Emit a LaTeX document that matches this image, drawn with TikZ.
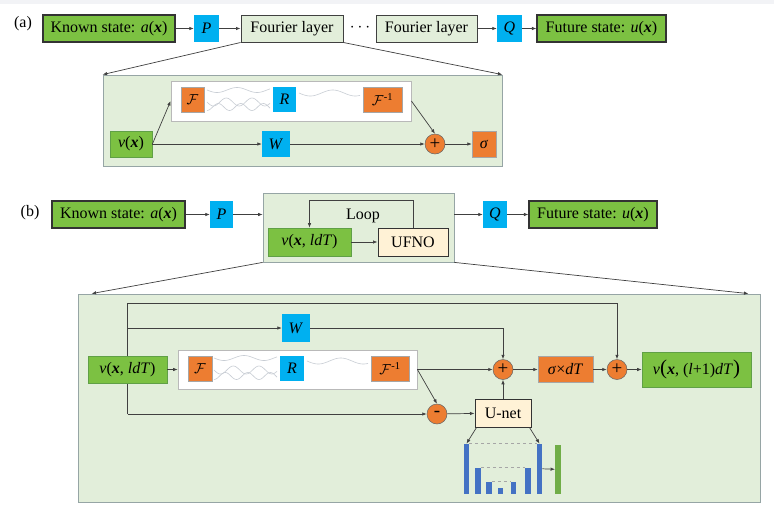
\documentclass[tikz,border=0pt]{standalone}
\usepackage{fontspec}
\setmainfont{Liberation Serif}
\usetikzlibrary{arrows.meta}

\definecolor{gfill}{RGB}{124,193,66}
\definecolor{gline}{RGB}{96,160,70}
\definecolor{cyanfill}{RGB}{0,176,240}
\definecolor{orangefill}{RGB}{237,125,49}
\definecolor{panelfill}{RGB}{226,238,218}
\definecolor{panelline}{RGB}{150,165,165}
\definecolor{creamfill}{RGB}{255,242,214}
\definecolor{barblue}{RGB}{68,114,196}
\definecolor{bargreen}{RGB}{112,173,71}
\definecolor{wave}{RGB}{200,205,212}
\definecolor{topband}{RGB}{242,243,246}

\newcommand{\bx}{\textbf{\textit{x}}}
\newcommand{\Finv}{{\fontsize{15}{15}\selectfont$\mathcal{F}$\textsuperscript{-1}}}
\newcommand{\Ffwd}{{\fontsize{15}{15}\selectfont$\mathcal{F}$}}

\tikzset{
  txt/.style={font=\fontsize{16}{18}\selectfont},
  blk/.style={rectangle, inner sep=0pt, txt},
  statebox/.style={blk, fill=gfill, draw=black!80, line width=1.2pt},
  vbox/.style={blk, fill=gfill, draw=gline, line width=0.8pt},
  cyanbox/.style={blk, fill=cyanfill, minimum width=25, minimum height=27},
  orangebox/.style={blk, fill=orangefill, draw=gray!70, line width=0.4pt, minimum height=25},
  layerbox/.style={blk, fill=panelfill, draw=black!75, line width=1pt, minimum height=27},
  creambox/.style={blk, fill=creamfill, draw=black!80, line width=1pt, minimum height=28},
  panel/.style={rectangle, fill=panelfill, draw=panelline, line width=0.8pt},
  specbox/.style={rectangle, fill=white, draw=gray!55, line width=0.8pt},
  opcirc/.style={circle, fill=orangefill, draw=black!60, line width=0.5pt,
    minimum size=20, inner sep=0pt, font=\fontsize{19}{19}\selectfont},
  conn/.style={draw=black!75, line width=0.7pt},
  arr/.style={conn, -{Latex[length=4.5pt,width=3.5pt]}},
  bar/.style={rectangle, fill=barblue, inner sep=0pt, minimum width=5.5},
  waveline/.style={draw=wave, line width=0.6pt},
}

\begin{document}
\begin{tikzpicture}[x=1pt, y=-1pt]
\useasboundingbox (0,0) rectangle (774,504);
\fill[white] (0,0) rectangle (774,504);
\fill[topband] (0,0) rectangle (774,4);

% ---------------- (a) ----------------
\node[txt] (la) at (23,24) {(a)};
\node[statebox, minimum width=132, minimum height=27] (ka) at (109,28.5)
  {Known state: \textit{a}(\bx)};
\node[cyanbox] (pa) at (206.5,28.5) {\textit{P}};
\node[layerbox, minimum width=102] (fl1) at (292,28.5) {Fourier layer};
\node[txt] (dots) at (360,28) {$\cdots$};
\node[layerbox, minimum width=101] (fl2) at (426.5,28.5) {Fourier layer};
\node[cyanbox] (qa) at (509.5,28.5) {\textit{Q}};
\node[statebox, minimum width=129, minimum height=27] (fa) at (601.5,28.5)
  {Future state: \textit{u}(\bx)};

\draw[arr] (ka) -- (pa);
\draw[arr] (pa) -- (fl1);
\draw[arr] (fl2) -- (qa);
\draw[arr] (qa) -- (fa);

\node[panel, minimum width=399, minimum height=91] (pna) at (302.5,120.5) {};
\draw[arr] (fl1.south west) -- (pna.north west);
\draw[arr] (fl1.south east) -- (pna.north east);

\node[specbox, minimum width=240, minimum height=40] (spa) at (291,101) {};
\draw[waveline] plot[domain=207:270, samples=60] (\x, {90+2.5*sin((\x-207)*9)});
\draw[waveline] plot[domain=207:270, samples=60] (\x, {102+4*sin((\x-207)*14)});
\draw[waveline] plot[domain=207:270, samples=60] (\x, {107+3.5*sin((\x-207)*16+90)});
\draw[waveline] plot[domain=299:360, samples=60] (\x, {93+3*sin((\x-299)*8)});
\node[orangebox, minimum width=23] (Fa) at (192.5,99.5) {\Ffwd};
\node[cyanbox, minimum width=23, minimum height=25] (Ra) at (284.5,99.5) {\textit{R}};
\node[orangebox, minimum width=39] (Fia) at (382.5,99.5) {\Finv};

\node[vbox, minimum width=42, minimum height=26] (va) at (131,144) {\textit{v}(\bx)};
\node[cyanbox, minimum width=28, minimum height=26] (Wa) at (276,144) {\textit{W}};
\node[opcirc] (pla) at (435,144) {+};
\node[orangebox, minimum width=24, minimum height=26] (sa) at (484,144) {\textit{σ}};

\draw[arr] (va.east) -- (spa.west);
\draw[arr] (va) -- (Wa);
\draw[arr] (Wa) -- (pla);
\draw[arr] (spa.east) -- (pla.north);
\draw[arr] (pla) -- (sa);

% ---------------- (b) ----------------
\node[txt] (lb) at (30,213) {(b)};
\node[statebox, minimum width=133, minimum height=27] (kb) at (118.5,214.5)
  {Known state: \textit{a}(\bx)};
\node[cyanbox, minimum width=23] (pb) at (221.5,214.5) {\textit{P}};
\node[panel, minimum width=191, minimum height=69] (lpb) at (358.5,227.5) {};
\node[vbox, minimum width=83, minimum height=28] (vb) at (309.5,242) {\textit{v}(\bx, \textit{ldT})};
\node[creambox, minimum width=70] (uf) at (413,242) {UFNO};
\node[txt] (looplbl) at (363,216) {Loop};
\node[cyanbox, minimum width=24] (qb) at (495,214.5) {\textit{Q}};
\node[statebox, minimum width=128, minimum height=27] (fb) at (593,214.5)
  {Future state: \textit{u}(\bx)};

\coordinate (lpin) at (lpb.west |- pb.east);
\coordinate (lpout) at (lpb.east |- qb.west);
\draw[arr] (kb) -- (pb);
\draw[arr] (pb.east) -- (lpin);
\draw[arr] (lpout) -- (qb.west);
\draw[arr] (qb) -- (fb);
\draw[arr] (vb) -- (uf);
\coordinate (lpr) at (uf.north |- 0,200);
\coordinate (lpl) at (vb.north |- 0,200);
\draw[arr] (uf.north) -- (lpr) -- (lpl) -- (vb.north);

\node[panel, minimum width=682, minimum height=208] (pnb) at (419,398) {};
\draw[arr] (lpb.south west) -- ([xshift=14]pnb.north west);
\draw[arr] (lpb.south east) -- ([xshift=-12]pnb.north east);

% branch lines behind the input node
\coordinate (bt) at (127.5,303);
\coordinate (bw) at (127.5,328);
\coordinate (bb) at (127.5,414);

\node[cyanbox, minimum width=28, minimum height=28] (Wb) at (296,328) {\textit{W}};
\node[opcirc] (pl1) at (503,369.5) {+};
\node[opcirc] (mn) at (437,414) {-};
\node[opcirc] (pl2) at (617,369.5) {+};

\draw[conn] (bb) -- (bt);
\draw[arr] (bt) -| (pl2.north);
\draw[arr] (bw) -- (Wb.west);
\draw[arr] (Wb.east) -| (pl1.north);
\draw[arr] (bb) -- (mn.west);

\node[vbox, minimum width=79, minimum height=27] (vB) at (127.5,369.5) {\textit{v}(\bx, \textit{ldT})};

\node[specbox, minimum width=239, minimum height=39] (spb) at (297.5,369.5) {};
\draw[waveline] plot[domain=214:277, samples=60] (\x, {358+2.5*sin((\x-214)*9)});
\draw[waveline] plot[domain=214:277, samples=60] (\x, {370+4*sin((\x-214)*14)});
\draw[waveline] plot[domain=214:277, samples=60] (\x, {376+3.5*sin((\x-214)*16+90)});
\draw[waveline] plot[domain=307:368, samples=60] (\x, {361+3*sin((\x-307)*8)});
\node[orangebox, minimum width=24] (Fb) at (200,368.5) {\Ffwd};
\node[cyanbox, minimum width=24, minimum height=25] (Rb) at (292,368.5) {\textit{R}};
\node[orangebox, minimum width=38] (Fib) at (390,368.5) {\Finv};

\node[creambox, minimum width=56] (un) at (503,413) {U-net};
\node[orangebox, minimum width=55, minimum height=26] (sdt) at (565.5,369.5) {\textit{σ}×\textit{dT}};
\node[vbox, minimum width=109, minimum height=35] (vout) at (696.5,369.5)
  {\textit{v}{\fontsize{21}{21}\selectfont(}\bx, (\textit{l}+1)\textit{dT}{\fontsize{21}{21}\selectfont)}};

\draw[arr] (vB) -- (spb);
\draw[arr] (spb.east) -- (pl1.west);
\draw[arr] (spb.east) -- (mn.north);
\draw[arr] (mn) -- (un);
\draw[arr] (un.north) -- (pl1.south);
\draw[arr] (pl1) -- (sdt);
\draw[arr] (sdt) -- (pl2);
\draw[arr] (pl2) -- (vout);

% U-net encoder/decoder sketch
\node[bar, minimum height=50, anchor=south] (b1) at (466.5,494) {};
\node[bar, minimum height=26, anchor=south] (b2) at (478,494) {};
\node[bar, minimum height=12, anchor=south] (b3) at (489,494) {};
\node[bar, minimum height=6,  anchor=south] (b4) at (500.5,494) {};
\node[bar, minimum height=12, anchor=south] (b5) at (513.5,494) {};
\node[bar, minimum height=26, anchor=south] (b6) at (528,494) {};
\node[bar, minimum height=50, anchor=south] (b7) at (539.5,494) {};
\node[bar, fill=bargreen, minimum height=49, anchor=south] (b8) at (558,494) {};

\draw[gray!70, dashed, line width=0.5pt] (b1.north east) -- (b7.north west);
\draw[gray!70, dashed, line width=0.5pt] (b2.north east) -- (b6.north west);
\draw[gray!70, dashed, line width=0.5pt] (b3.north east) -- (b5.north west);
\draw[arr] (b7.east) -- (b8.west);
\draw[arr] ([xshift=2]un.south west) -- (b1.north);
\draw[arr] ([xshift=-2]un.south east) -- (b7.north);
\end{tikzpicture}
\end{document}
